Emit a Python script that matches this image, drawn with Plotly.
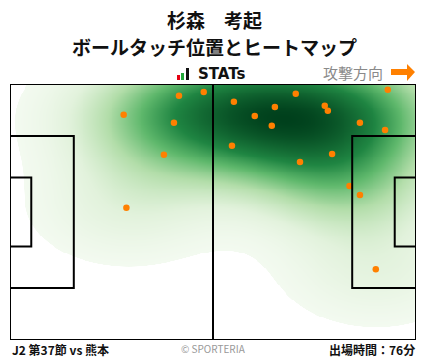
import numpy as np
import plotly.graph_objects as go

# ---- data: ball touch positions (metres, pitch 105 x 68, attacking to the right) ----
touch_x = [29.4, 43.7, 50.1, 42.4, 39.8, 30.1, 57.9, 68.5, 73.9, 63.3, 67.7,
           81.4, 82.2, 97.7, 90.5, 97.0, 57.4, 75.0, 83.3, 87.8, 90.5, 94.6]
touch_y = [59.8, 64.9, 65.9, 57.7, 49.2, 35.1, 63.3, 61.9, 65.4, 59.5, 56.9,
           62.2, 60.9, 66.5, 57.7, 55.8, 51.6, 47.3, 49.4, 40.9, 38.5, 18.8]

title_name = "杉森　考起"
title_sub = "ボールタッチ位置とヒートマップ"
footer_left = "J2 第37節 vs 熊本"
footer_right = "出場時間：76分"
footer_mid = "© SPORTERIA"
direction_label = "攻撃方向"

PITCH_L, PITCH_W = 105.0, 68.0

# ---- heat map: kernel density of the touches ----
gx = np.linspace(0, PITCH_L, 211)
gy = np.linspace(0, PITCH_W, 137)
X, Y = np.meshgrid(gx, gy)
sx, sy = 15.5, 9.5
Z = np.zeros_like(X)
for xi, yi in zip(touch_x, touch_y):
    Z += np.exp(-((X - xi) ** 2 / (2 * sx ** 2) + (Y - yi) ** 2 / (2 * sy ** 2)))
zmax = float(Z.max())

# colour anchors in "single-touch kernel" units
anchors = [(0.28, "#f3faf0"), (1.3, "#e2f2dc"), (2.8, "#b2dda9"),
           (4.4, "#5fb86c"), (6.0, "#1f8542")]
t = anchors[0][0] / zmax
colorscale = [[0.0, "rgba(255,255,255,0)"], [t - 0.0005, "rgba(255,255,255,0)"]]
for v, c in anchors:
    if v < zmax * 0.98:
        colorscale.append([v / zmax, c])
colorscale.append([1.0, "#00401c"])

fig = go.Figure()
fig.add_trace(go.Heatmap(x=gx, y=gy, z=Z, zmin=0, zmax=zmax, colorscale=colorscale,
                         showscale=False, zsmooth="best", hoverinfo="skip"))
fig.add_trace(go.Scatter(x=touch_x, y=touch_y, mode="markers",
                         marker=dict(color="#ff8000", size=6.5, line=dict(width=0)),
                         hoverinfo="skip", showlegend=False))

line = dict(color="black", width=2)
shapes = [
    dict(type="rect", x0=0, x1=PITCH_L, y0=0, y1=PITCH_W, line=line),
    dict(type="line", x0=PITCH_L / 2, x1=PITCH_L / 2, y0=0, y1=PITCH_W, line=line),
    dict(type="rect", x0=0, x1=16.5, y0=13.84, y1=54.16, line=line),
    dict(type="rect", x0=0, x1=5.5, y0=24.84, y1=43.16, line=line),
    dict(type="rect", x0=PITCH_L - 16.5, x1=PITCH_L, y0=13.84, y1=54.16, line=line),
    dict(type="rect", x0=PITCH_L - 5.5, x1=PITCH_L, y0=24.84, y1=43.16, line=line),
]

# header / footer decorations in paper coordinates
W, H = 428, 359
ML, MR, MT, MB = 10, 12, 84, 19
PW, PH = W - ML - MR, H - MT - MB

def px(x):
    return (x - ML) / PW

def py(y):
    return (H - MB - y) / PH

# STATs icon bars
for (x0, x1, y0, col) in [(177, 180, 75, "#e60012"), (181, 184, 73, "#22a83a"), (186, 189, 68, "#111111")]:
    shapes.append(dict(type="rect", xref="paper", yref="paper", x0=px(x0), x1=px(x1),
                       y0=py(80), y1=py(y0), fillcolor=col, line=dict(width=0)))
# direction arrow
arrow_pts = [(391, 69), (407, 69), (407, 64), (415, 72), (407, 81), (407, 75), (391, 75)]
path = "M " + " L ".join(f"{px(a):.5f},{py(b):.5f}" for a, b in arrow_pts) + " Z"
shapes.append(dict(type="path", xref="paper", yref="paper", path=path,
                   fillcolor="#ff8000", line=dict(width=0)))

jp = "Noto Sans CJK JP"
annotations = [
    dict(text=f"<b>{title_name}</b>", x=px(214), y=py(19.5), font=dict(size=19, family=jp, color="#111")),
    dict(text=f"<b>{title_sub}</b>", x=px(214), y=py(46.5), font=dict(size=19, family=jp, color="#111")),
    dict(text="<b>STATs</b>", x=px(196), y=py(74), xanchor="left",
         font=dict(size=15, family="Verdana, DejaVu Sans", color="#111")),
    dict(text=direction_label, x=px(385), y=py(72), xanchor="right",
         font=dict(size=15, family=jp, color="#8a8a8a")),
    dict(text=f"<b>{footer_left}</b>", x=px(10), y=py(349), xanchor="left",
         font=dict(size=12, family=jp, color="#111")),
    dict(text=footer_mid, x=px(213), y=py(348), font=dict(size=10, family=jp, color="#999")),
    dict(text=f"<b>{footer_right}</b>", x=px(417), y=py(349), xanchor="right",
         font=dict(size=12, family=jp, color="#111")),
]
for a in annotations:
    a.update(xref="paper", yref="paper", showarrow=False)
    a.setdefault("xanchor", "center")
    a["yanchor"] = "middle"

fig.update_layout(
    width=W, height=H, margin=dict(l=ML, r=MR, t=MT, b=MB),
    paper_bgcolor="white", plot_bgcolor="white",
    xaxis=dict(range=[0, PITCH_L], visible=False, fixedrange=True),
    yaxis=dict(range=[0, PITCH_W], visible=False, fixedrange=True),
    shapes=shapes, annotations=annotations, showlegend=False,
)
fig.write_html("out.html", config={"displayModeBar": False},
               post_script="document.body.style.margin='0';document.body.style.overflow='hidden';")
